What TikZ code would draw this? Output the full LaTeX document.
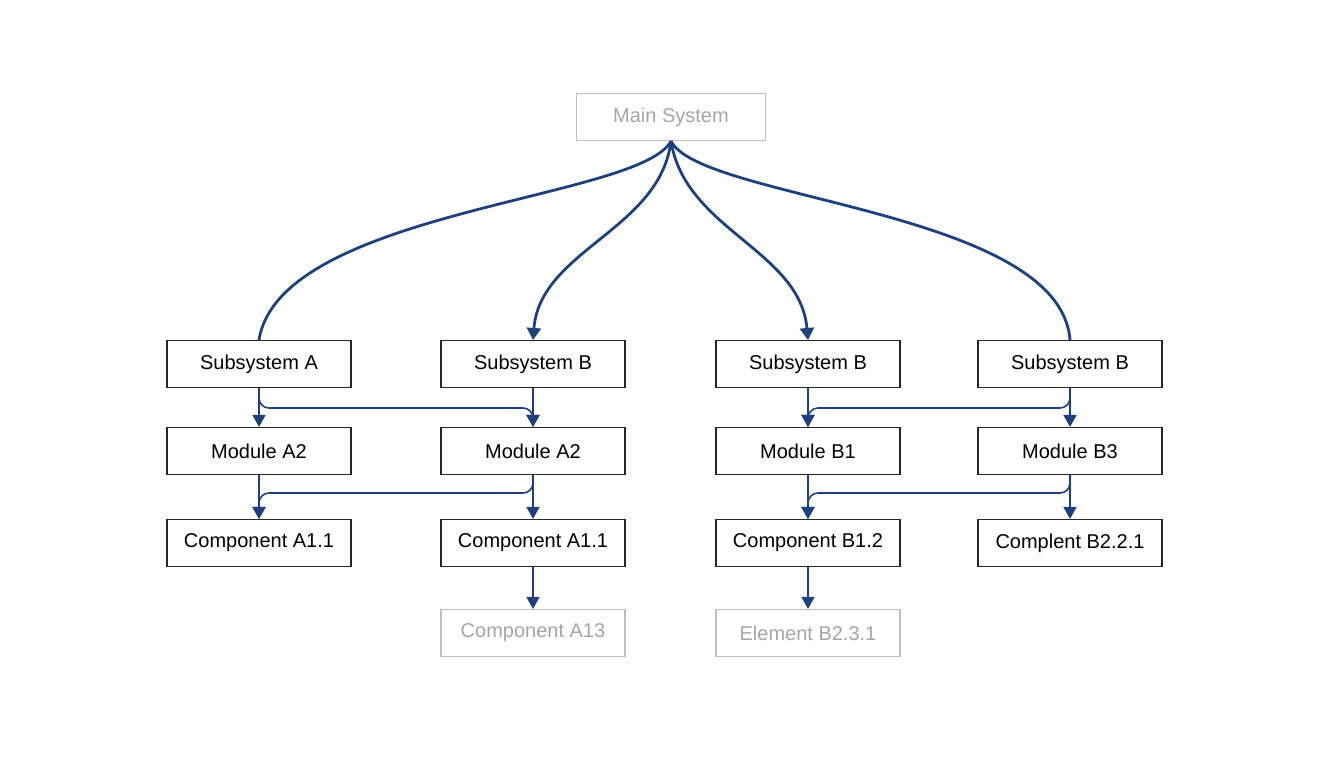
\documentclass[tikz,border=0pt]{standalone}
\usepackage{fontspec}
\setmainfont{Liberation Sans}
\usetikzlibrary{arrows.meta}
\definecolor{linkblue}{RGB}{30,65,125}
\tikzset{
  box/.style={draw=black!85, fill=white, line width=1.1pt, minimum width=184pt, minimum height=47pt, font=\fontsize{20}{22}\selectfont, inner sep=0pt},
  faint/.style={box, draw=black!25, text=black!35},
  link/.style={draw=linkblue, line width=1.6pt, -{Triangle[width=13pt,length=12pt]}},
  plain/.style={draw=linkblue, line width=2.8pt},
  elbow/.style={link, rounded corners=10pt}
}
\begin{document}
\begin{tikzpicture}[x=1pt, y=-1pt]
\useasboundingbox (0,0) rectangle (1344,768);
% Top
\node[faint, minimum width=189pt] (main) at (671,117) {Main System};
% Subsystems
\node[box] (subA) at (259,364) {Subsystem A};
\node[box] (subB) at (533,364) {Subsystem B};
\node[box] (subC) at (808,364) {Subsystem B};
\node[box] (subD) at (1070,364) {Subsystem B};
% Modules
\node[box] (modA) at (259,451) {Module A2};
\node[box] (modB) at (533,451) {Module A2};
\node[box] (modC) at (808,451) {Module B1};
\node[box] (modD) at (1070,451) {Module B3};
% Components
\node[box] (comA) at (259,543) {Component A1.1};
\node[box] (comB) at (533,543) {Component A1.1};
\node[box] (comC) at (808,543) {Component B1.2};
\node[box] (comD) at (1070,543) {Complent B2.2.1};
% Elements
\node[faint] (eleB) at (533,633) {Component A13};
\node[faint] (eleC) at (808,633) {Element B2.3.1};

% Curves from main system
\draw[plain] (main.south) .. controls (640,200) and (280,210) .. (subA.north);
\draw[plain, -{Triangle[width=14pt,length=12pt]}] (main.south) .. controls (660,230) and (540,250) .. (subB.north);
\draw[plain, -{Triangle[width=14pt,length=12pt]}] (main.south) .. controls (685,230) and (800,250) .. (subC.north);
\draw[plain] (main.south) .. controls (700,200) and (1060,210) .. (subD.north);

% Level links
\draw[link] (subA) -- (modA);
\draw[link] (subB) -- (modB);
\draw[link] (subC) -- (modC);
\draw[link] (subD) -- (modD);
\draw[elbow] (subA.south) |- (400,408) -| (modB.north);
\draw[elbow] (subD.south) |- (940,408) -| (modC.north);
\draw[link] (modA) -- (comA);
\draw[link] (modB) -- (comB);
\draw[link] (modC) -- (comC);
\draw[link] (modD) -- (comD);
\draw[elbow] (modB.south) |- (400,493) -| (comA.north);
\draw[elbow] (modD.south) |- (940,493) -| (comC.north);
\draw[link] (comB) -- (eleB);
\draw[link] (comC) -- (eleC);
\end{tikzpicture}
\end{document}
